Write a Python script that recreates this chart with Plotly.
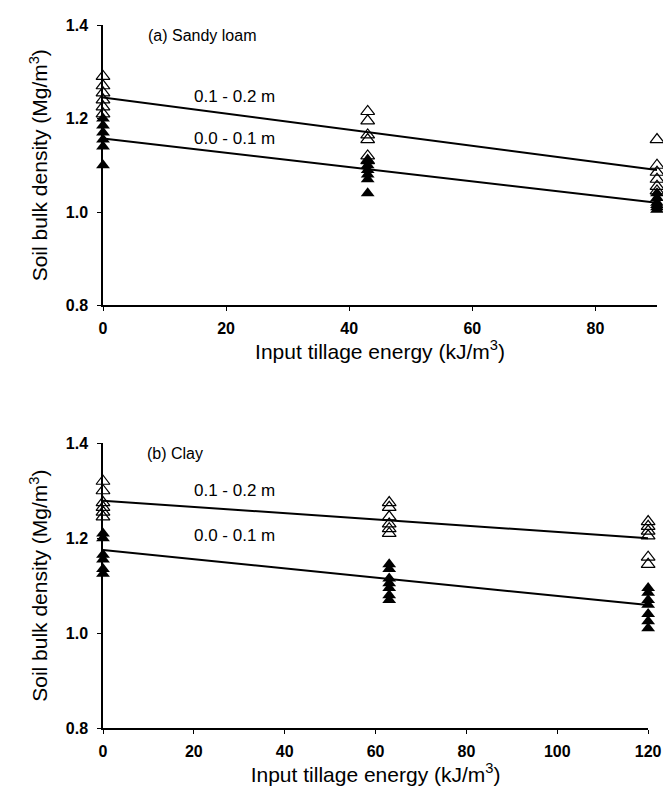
import plotly.graph_objects as go

# ---------- data: (a) Sandy loam ----------
sl_x_open = [0]*6 + [43]*6 + [90]*6
sl_y_open = [1.29, 1.27, 1.255, 1.24, 1.225, 1.21,
             1.215, 1.195, 1.165, 1.155, 1.12, 1.11,
             1.155, 1.10, 1.085, 1.07, 1.055, 1.045]
sl_x_fill = [0]*6 + [43]*6 + [90]*6
sl_y_fill = [1.20, 1.185, 1.17, 1.155, 1.14, 1.10,
             1.11, 1.10, 1.09, 1.08, 1.07, 1.04,
             1.04, 1.03, 1.02, 1.015, 1.01, 1.005]
sl_line_x = [0, 90]
sl_line_deep = [1.245, 1.09]
sl_line_top = [1.157, 1.02]

# ---------- data: (b) Clay ----------
cl_x_open = [0]*6 + [63]*6 + [120]*6
cl_y_open = [1.32, 1.30, 1.275, 1.265, 1.255, 1.245,
             1.275, 1.265, 1.245, 1.23, 1.22, 1.21,
             1.235, 1.225, 1.215, 1.205, 1.16, 1.145]
cl_x_fill = [0]*6 + [63]*7 + [120]*7
cl_y_fill = [1.21, 1.20, 1.165, 1.155, 1.135, 1.125,
             1.145, 1.135, 1.115, 1.105, 1.095, 1.08, 1.07,
             1.095, 1.085, 1.07, 1.06, 1.04, 1.025, 1.01]
cl_line_x = [0, 120]
cl_line_deep = [1.279, 1.20]
cl_line_top = [1.175, 1.059]

y_ticks = [0.8, 1.0, 1.2, 1.4]
x_ticks_a = [0, 20, 40, 60, 80]
x_ticks_b = [0, 20, 40, 60, 80, 100, 120]

FONT = "Liberation Sans, Arial, sans-serif"
MS = 12

fig = go.Figure()

def add_panel(xa, ya, xo, yo, xf, yf, lx, ldeep, ltop):
    fig.add_trace(go.Scatter(x=lx, y=ldeep, mode="lines", line=dict(color="black", width=2),
                             xaxis=xa, yaxis=ya, showlegend=False, cliponaxis=False))
    fig.add_trace(go.Scatter(x=lx, y=ltop, mode="lines", line=dict(color="black", width=2),
                             xaxis=xa, yaxis=ya, showlegend=False, cliponaxis=False))
    fig.add_trace(go.Scatter(x=xo, y=yo, mode="markers",
                             marker=dict(symbol="triangle-up-open", size=MS, color="black",
                                         line=dict(width=1.2, color="black")),
                             xaxis=xa, yaxis=ya, showlegend=False, cliponaxis=False))
    fig.add_trace(go.Scatter(x=xf, y=yf, mode="markers",
                             marker=dict(symbol="triangle-up", size=MS, color="black"),
                             xaxis=xa, yaxis=ya, showlegend=False, cliponaxis=False))

add_panel("x", "y", sl_x_open, sl_y_open, sl_x_fill, sl_y_fill, sl_line_x, sl_line_deep, sl_line_top)
add_panel("x2", "y2", cl_x_open, cl_y_open, cl_x_fill, cl_y_fill, cl_line_x, cl_line_deep, cl_line_top)

axis_common = dict(showline=True, linecolor="black", linewidth=1.5, ticks="outside",
                   ticklen=4, tickwidth=1.2, tickcolor="black", showgrid=False, zeroline=False,
                   tickfont=dict(family=FONT, size=16, color="black", weight="bold"))

xtitle = dict(text="Input tillage energy (kJ/m<sup>3</sup>)", font=dict(family=FONT, size=21, color="black"),
              standoff=6)
ytitle = dict(text="Soil bulk density (Mg/m<sup>3</sup>)", font=dict(family=FONT, size=21, color="black"),
              standoff=12)

fig.update_layout(
    width=671, height=790,
    margin=dict(l=95, r=9, t=16, b=70),
    paper_bgcolor="white", plot_bgcolor="white",
    xaxis=dict(domain=[0, 1], range=[0, 90], tickvals=x_ticks_a, anchor="y", title=xtitle,
               ticklabelstandoff=4, **axis_common),
    yaxis=dict(domain=[0.601, 1], range=[0.8, 1.4], tickvals=y_ticks, tickformat=".1f",
               anchor="x", title=ytitle, ticklabelstandoff=6, **axis_common),
    xaxis2=dict(domain=[0, 0.984], range=[0, 120], tickvals=x_ticks_b, anchor="y2", title=xtitle,
                ticklabelstandoff=4, **axis_common),
    yaxis2=dict(domain=[0, 0.405], range=[0.8, 1.4], tickvals=y_ticks, tickformat=".1f",
                anchor="x2", title=ytitle, ticklabelstandoff=6, **axis_common),
)

ann_font = dict(family=FONT, size=17, color="black")
fig.add_annotation(x=7, y=1.378, xref="x", yref="y", text="(a) Sandy loam", showarrow=False,
                   xanchor="left", yanchor="middle", font=dict(family=FONT, size=16, color="black"))
fig.add_annotation(x=21.4, y=1.248, xref="x", yref="y", text="0.1 - 0.2 m", showarrow=False, font=ann_font)
fig.add_annotation(x=21.4, y=1.158, xref="x", yref="y", text="0.0 - 0.1 m", showarrow=False, font=ann_font)

fig.add_annotation(x=9.2, y=1.379, xref="x2", yref="y2", text="(b) Clay", showarrow=False,
                   xanchor="left", yanchor="middle", font=dict(family=FONT, size=16, color="black"))
fig.add_annotation(x=29, y=1.30, xref="x2", yref="y2", text="0.1 - 0.2 m", showarrow=False, font=ann_font)
fig.add_annotation(x=29, y=1.205, xref="x2", yref="y2", text="0.0 - 0.1 m", showarrow=False, font=ann_font)

fig.write_html("out.html")
